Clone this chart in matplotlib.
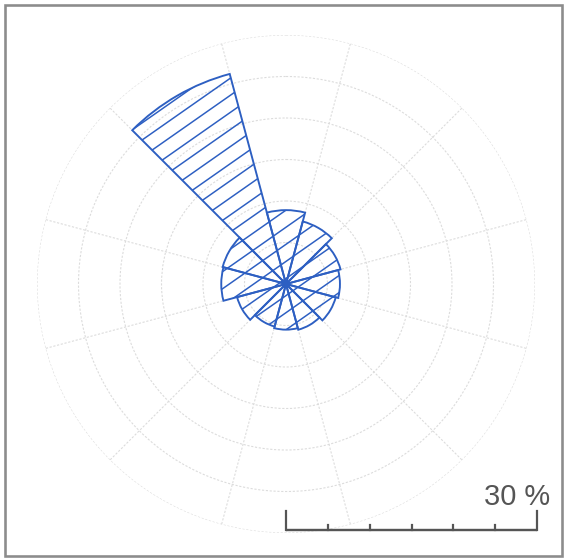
import numpy as np
import matplotlib.pyplot as plt
from matplotlib.patches import Rectangle
from matplotlib.collections import LineCollection
from matplotlib.path import Path

# direction classes (degrees, clockwise from north) and share of observations in %
directions = [0, 30, 60, 90, 120, 150, 180, 210, 240, 270, 300, 330]
share = [8.9, 7.8, 6.8, 6.5, 6.2, 5.7, 5.5, 5.3, 6.1, 7.8, 7.9, 26.2]
sector_width = 30

ring_levels = [5, 10, 15, 20, 25, 30]
spoke_angles = [15, 45, 75, 105, 135, 165, 195, 225, 255, 285, 315, 345]
scale_ticks = [0, 5, 10, 15, 20, 25, 30]
scale_label = '30 %'

W, H = 566, 559
DPI = 100


def pt(px):
    return px * 72 / DPI


fig = plt.figure(figsize=(W / DPI, H / DPI), dpi=DPI)

blue = '#2d5fc2'
grid_c = '#dcdcdc'
ink = '#555555'

# rose diagram
cx, cy, R = 286, 284, 249
ax = fig.add_axes([(cx - R) / W, (H - cy - R) / H, 2 * R / W, 2 * R / H],
                  projection='polar')
ax.set_theta_zero_location('N')
ax.set_theta_direction(-1)
ax.set_ylim(0, 30)
ax.set_rgrids(ring_levels, labels=[''] * len(ring_levels))
ax.set_thetagrids(spoke_angles, labels=[''] * len(spoke_angles))
ax.grid(True, color=grid_c, linewidth=pt(1.1), linestyle=(0, (2, 1.5)))
ax.spines['polar'].set_visible(False)
ax.set_facecolor('none')

bars = ax.bar(np.deg2rad(directions), share, width=np.deg2rad(sector_width),
              bottom=0, fill=False, edgecolor=blue, linewidth=pt(1.9),
              align='center', zorder=3)

# hatching: parallel lines at ~35 deg, clipped to each sector
ang = np.deg2rad(35)
step = 14 / (2 * R)
ux, uy = np.cos(ang), np.sin(ang)
nx, ny = -uy, ux
segs = []
for o in np.arange(-0.75, 0.75, step):
    px0, py0 = 0.5 + o * nx, 0.5 + o * ny
    segs.append([(px0 - ux, py0 - uy), (px0 + ux, py0 + uy)])

to_axes = ax.transAxes.inverted()
for b in bars:
    disp = b.get_transform().transform_path(b.get_path())
    outline = np.vstack(disp.to_polygons(closed_only=False))
    clip = Path(to_axes.transform(outline), closed=True)
    lc = LineCollection(segs, transform=ax.transAxes, colors=blue,
                        linewidths=pt(1.5), zorder=2)
    ax.add_collection(lc)
    lc.set_clip_path(clip, ax.transAxes)

# scale bar
sx0, sx1 = 286, 537
sax = fig.add_axes([sx0 / W, (H - 540) / H, (sx1 - sx0) / W, 40 / H])
sax.set_xlim(scale_ticks[0], scale_ticks[-1])
sax.set_ylim(0, 40)
sax.axis('off')
sax.plot([scale_ticks[0], scale_ticks[-1]], [10, 10], color=ink, lw=pt(2.4),
         solid_capstyle='butt', clip_on=False)
for t in scale_ticks:
    top = 29 if t in (scale_ticks[0], scale_ticks[-1]) else 15
    sax.plot([t, t], [10, top], color=ink, lw=pt(2.2), clip_on=False)

fig.text(550 / W, (H - 505) / H, scale_label, ha='right', va='baseline',
         fontsize=pt(29), color=ink, family='Liberation Sans')

# outer frame
fig.patches.append(Rectangle((5 / W, 3 / H), 557 / W, 551 / H,
                             transform=fig.transFigure, fill=False,
                             edgecolor='#8c8c8c', linewidth=pt(2.6)))

fig.savefig('out.png', dpi=DPI)
